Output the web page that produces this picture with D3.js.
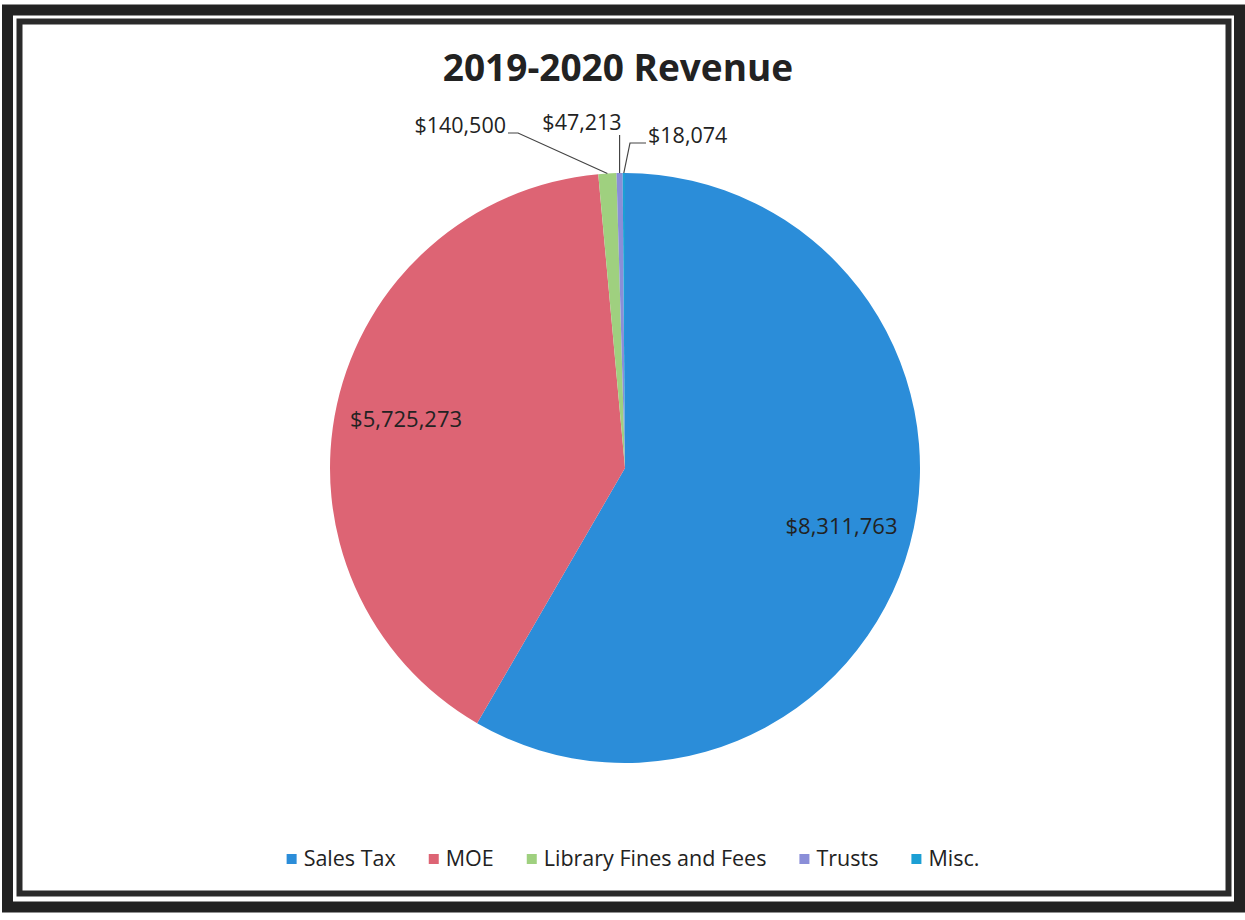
<!DOCTYPE html>
<html>
<head>
<meta charset="utf-8">
<script src="https://cdn.jsdelivr.net/npm/d3@7"></script>
<style>
  body { margin: 0; background: #fff; }
  text { font-family: "Open Sans", sans-serif; fill: #222; }
</style>
</head>
<body>
<div id="chart"></div>
<script>
// revenue data
const categories = ["Sales Tax", "MOE", "Library Fines and Fees", "Trusts", "Misc."];
const values = [8311763, 5725273, 140500, 47213, 18074];
const colors = ["#2b8dd9", "#dd6474", "#9fd07f", "#8a8ed8", "#1c9fd4"];

const svgWidth = 1245;
const svgHeight = 920;
const cx = 625, cy = 468, radius = 295;

const svg = d3.select("#chart")
    .append("svg")
    .attr("width", svgWidth)
    .attr("height", svgHeight);

// double frame like the scanned page
svg.append("rect")
    .attr("x", 7.5).attr("y", 10)
    .attr("width", 1232).attr("height", 897)
    .attr("fill", "none").attr("stroke", "#222").attr("stroke-width", 11);
svg.append("rect")
    .attr("x", 19.5).attr("y", 21.5)
    .attr("width", 1209).attr("height", 872)
    .attr("fill", "none").attr("stroke", "#2a2a2a").attr("stroke-width", 6);

svg.append("text")
    .attr("x", 618)
    .attr("y", 81)
    .attr("text-anchor", "middle")
    .style("font-size", "37px")
    .style("font-weight", "bold")
    .text("2019-2020 Revenue");

const data = categories.map((c, i) => ({ name: c, value: values[i], color: colors[i] }));

const pie = d3.pie().sort(null).value(d => d.value);
const arcs = pie(data);
const arc = d3.arc().innerRadius(0).outerRadius(radius);
const labelArc = d3.arc().innerRadius(radius * 0.76).outerRadius(radius * 0.76);

const g = svg.append("g").attr("transform", `translate(${cx},${cy})`);

g.selectAll("path")
    .data(arcs)
    .enter()
    .append("path")
    .attr("d", arc)
    .attr("fill", d => d.data.color);

const fmt = d => "$" + d3.format(",")(d);

// big slices: label inside
g.selectAll(".in-label")
    .data(arcs.filter(d => d.endAngle - d.startAngle > 0.3))
    .enter()
    .append("text")
    .attr("class", "in-label")
    .attr("transform", d => `translate(${labelArc.centroid(d)})`)
    .attr("text-anchor", "middle")
    .attr("dy", "0.35em")
    .style("font-size", "22px")
    .text(d => fmt(d.data.value));

// small slices: label outside with leader line (offsets from pie centre)
const outLabels = [
    { i: 2, tx: -119, ty: -343, anchor: "end", elbow: [-107, -335] },
    { i: 3, tx: -43, ty: -346, anchor: "middle", elbow: [-7, -333] },
    { i: 4, tx: 23, ty: -333, anchor: "start", elbow: [5, -325] }
];

outLabels.forEach(l => {
    const a = arcs[l.i];
    const mid = (a.startAngle + a.endAngle) / 2;
    const p = [Math.sin(mid) * radius, -Math.cos(mid) * radius];
    const pts = l.i === 3
        ? [p, [p[0], l.elbow[1]]]
        : [p, l.elbow, [l.tx + (l.anchor === "end" ? 2 : -2), l.elbow[1]]];
    g.append("path")
        .attr("d", d3.line()(pts))
        .attr("fill", "none")
        .attr("stroke", "#444")
        .attr("stroke-width", 1.2);
    g.append("text")
        .attr("x", l.tx)
        .attr("y", l.ty)
        .attr("text-anchor", l.anchor)
        .attr("dy", "0.35em")
        .style("font-size", "21.5px")
        .text(fmt(a.data.value));
});

// legend
const legend = svg.append("g");
const items = legend.selectAll("g")
    .data(data)
    .enter()
    .append("g");
items.append("rect")
    .attr("width", 10).attr("height", 10)
    .attr("y", -4)
    .attr("fill", d => d.color);
items.append("text")
    .attr("x", 17)
    .attr("dy", "0.35em")
    .style("font-size", "21.5px")
    .text(d => d.name);

const gap = 33;
let xpos = 0;
items.each(function () {
    const w = this.getBBox().width;
    d3.select(this).attr("transform", `translate(${xpos},0)`);
    xpos += w + gap;
});
const totalW = xpos - gap;
legend.attr("transform", `translate(${633 - totalW / 2},858)`);
</script>
</body>
</html>
